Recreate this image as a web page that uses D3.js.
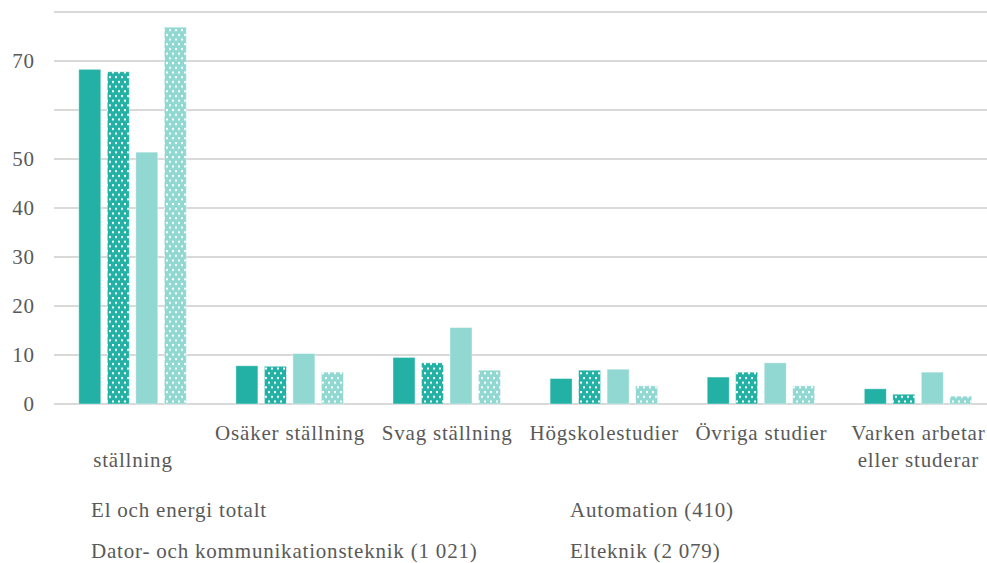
<!DOCTYPE html>
<html><head><meta charset="utf-8">
<script src="https://cdn.jsdelivr.net/npm/d3@7"></script>
<style>body{margin:0;background:#fff}svg{display:block}</style>
</head><body><svg id="c" width="987" height="563"></svg>
<script>
const categories = [["", "ställning"], ["Osäker ställning"], ["Svag ställning"], ["Högskolestudier"], ["Övriga studier"], ["Varken arbetar", "eller studerar"]];
const seriesNames = ["El och energi totalt", "Dator- och kommunikationsteknik (1 021)", "Automation (410)", "Elteknik (2 079)"];
const elEnergi = [68.3, 7.8, 9.5, 5.2, 5.5, 3.1];
const dator = [67.8, 7.7, 8.4, 6.9, 6.5, 2.0];
const automation = [51.4, 10.3, 15.6, 7.1, 8.4, 6.5];
const elteknik = [76.9, 6.5, 6.9, 3.7, 3.7, 1.6];
const gridTicks = [0, 10, 20, 30, 40, 50, 60, 70, 80];
const labelTicks = [0, 10, 20, 30, 40, 50, 70];

const seriesValues = [elEnergi, dator, automation, elteknik];
const colors = ["#23b1a5", "url(#dotDark)", "#90d8d1", "url(#dotLight)"];
const FONT = '"Liberation Serif", "DejaVu Serif", serif';
const LS = 0.8;

const svg = d3.select("#c");
const defs = svg.append("defs");
function pattern(id, bg) {
  const p = defs.append("pattern").attr("id", id).attr("patternUnits", "userSpaceOnUse")
    .attr("width", 6).attr("height", 9.4);
  p.append("rect").attr("width", 6).attr("height", 9.4).attr("fill", bg);
  p.append("rect").attr("x", 1).attr("y", 1).attr("width", 2).attr("height", 2).attr("fill", "#fff");
  p.append("rect").attr("x", 4).attr("y", 5.7).attr("width", 2).attr("height", 2).attr("fill", "#fff");
}
pattern("dotDark", "#23b1a5");
pattern("dotLight", "#90d8d1");

const x0 = d3.scaleBand().domain(d3.range(categories.length)).range([54, 996.6]).paddingInner(0).paddingOuter(0);
const x1 = d3.scaleBand().domain(d3.range(seriesNames.length)).range([0, 107.5]).paddingInner(0.228).paddingOuter(0);
const y = d3.scaleLinear().domain([0, 80]).range([404, 12]);

svg.append("g").selectAll("line").data(gridTicks).join("line")
  .attr("x1", 54).attr("x2", 987).attr("y1", d => y(d)).attr("y2", d => y(d))
  .attr("stroke", "#d9d9d9").attr("stroke-width", 2);

const yAxis = d3.axisLeft(y).tickValues(labelTicks).tickSize(0).tickPadding(0);
const ga = svg.append("g").attr("transform", "translate(34.8,0)").call(yAxis);
ga.attr("font-family", FONT).attr("font-size", 21);
ga.select(".domain").remove();
ga.selectAll("text").attr("fill", "#595959").style("font-family", FONT)
  .attr("font-size", 21).attr("letter-spacing", LS);

const groupOffset = (x0.bandwidth() - 107.5) / 2;
const g = svg.append("g");
seriesValues.forEach((vals, si) => {
  g.append("g").selectAll("rect").data(vals).join("rect")
    .attr("x", (d, i) => x0(i) + groupOffset + x1(si))
    .attr("y", d => y(d))
    .attr("width", x1.bandwidth())
    .attr("height", d => y(0) - y(d))
    .attr("fill", colors[si])
    .attr("stroke", "#ffffff").attr("stroke-opacity", 0.5).attr("stroke-width", 0.8);
});

categories.forEach((lines, i) => {
  const cx = x0(i) + x0.bandwidth() / 2;
  lines.forEach((t, li) => {
    if (!t) return;
    svg.append("text").attr("x", cx + LS / 2).attr("y", 440 + li * 27).attr("text-anchor", "middle")
      .style("font-family", FONT).attr("fill", "#595959").attr("font-size", 21)
      .attr("letter-spacing", LS).text(t);
  });
});

const legendPos = [[91, 517], [91, 558], [570, 517], [570, 558]];
seriesNames.forEach((n, i) => {
  svg.append("text").attr("x", legendPos[i][0]).attr("y", legendPos[i][1])
    .style("font-family", FONT).attr("fill", "#595959").attr("font-size", 21)
    .attr("letter-spacing", LS).text(n);
});
</script></body></html>
